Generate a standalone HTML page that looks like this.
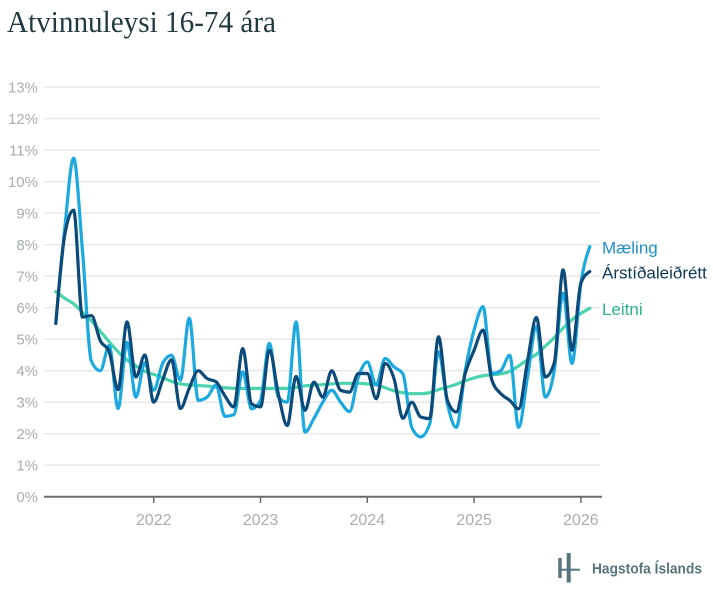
<!DOCTYPE html>
<html><head><meta charset="utf-8"><style>
html,body{margin:0;padding:0;background:#fff;}
svg{display:block;}
</style></head><body>
<svg width="713" height="597" viewBox="0 0 713 597" xmlns="http://www.w3.org/2000/svg">
<rect width="713" height="597" fill="#fff"/>
<text x="7" y="32" font-family="Liberation Serif, serif" font-size="31" fill="#213a40" textLength="269" lengthAdjust="spacingAndGlyphs">Atvinnuleysi 16-74 ára</text>
<g stroke="#e6e6e6" stroke-width="1.3">
<line x1="44" x2="600" y1="87.2" y2="87.2"/>
<line x1="44" x2="600" y1="118.7" y2="118.7"/>
<line x1="44" x2="600" y1="150.2" y2="150.2"/>
<line x1="44" x2="600" y1="181.7" y2="181.7"/>
<line x1="44" x2="600" y1="213.2" y2="213.2"/>
<line x1="44" x2="600" y1="244.7" y2="244.7"/>
<line x1="44" x2="600" y1="276.2" y2="276.2"/>
<line x1="44" x2="600" y1="307.7" y2="307.7"/>
<line x1="44" x2="600" y1="339.2" y2="339.2"/>
<line x1="44" x2="600" y1="370.7" y2="370.7"/>
<line x1="44" x2="600" y1="402.2" y2="402.2"/>
<line x1="44" x2="600" y1="433.7" y2="433.7"/>
<line x1="44" x2="600" y1="465.2" y2="465.2"/>
</g>
<g font-family="Liberation Sans, sans-serif" font-size="15" fill="#a7adb1" text-anchor="end">
<text x="38" y="92.7">13%</text>
<text x="38" y="124.2">12%</text>
<text x="38" y="155.7">11%</text>
<text x="38" y="187.2">10%</text>
<text x="38" y="218.7">9%</text>
<text x="38" y="250.2">8%</text>
<text x="38" y="281.7">7%</text>
<text x="38" y="313.2">6%</text>
<text x="38" y="344.7">5%</text>
<text x="38" y="376.2">4%</text>
<text x="38" y="407.7">3%</text>
<text x="38" y="439.2">2%</text>
<text x="38" y="470.7">1%</text>
<text x="38" y="502.2">0%</text>
</g>
<g stroke="#6b6b6b" stroke-width="1.5">
<line x1="153.7" x2="153.7" y1="497" y2="503"/>
<line x1="260.5" x2="260.5" y1="497" y2="503"/>
<line x1="367.3" x2="367.3" y1="497" y2="503"/>
<line x1="474.1" x2="474.1" y1="497" y2="503"/>
<line x1="580.9" x2="580.9" y1="497" y2="503"/>
</g>
<g font-family="Liberation Sans, sans-serif" font-size="16" fill="#a7adb1" text-anchor="middle">
<text x="153.7" y="525">2022</text>
<text x="260.5" y="525">2023</text>
<text x="367.3" y="525">2024</text>
<text x="474.1" y="525">2025</text>
<text x="580.9" y="525">2026</text>
</g>
<g transform="matrix(1,0,0,-31.5,0,496.7)">
<polyline class="s" fill="none" stroke="#4cd3ad" stroke-width="3.2" vector-effect="non-scaling-stroke" stroke-linejoin="round" stroke-linecap="round" points="55.8,6.51 64.7,6.3 73.6,6.12 82.5,5.85 91.4,5.58 100.3,5.25 109.2,4.92 118.1,4.6 127.0,4.34 135.9,4.15 144.8,3.98 153.7,3.88 162.6,3.78 171.5,3.66 180.4,3.58 189.3,3.55 198.2,3.53 207.1,3.51 216.0,3.48 224.9,3.46 233.8,3.44 242.7,3.44 251.6,3.44 260.5,3.44 269.4,3.44 278.3,3.44 287.2,3.44 296.1,3.47 305.0,3.52 313.9,3.54 322.8,3.56 331.7,3.58 340.6,3.6 349.5,3.6 358.4,3.6 367.3,3.58 376.2,3.55 385.1,3.46 394.0,3.36 402.9,3.3 411.8,3.27 420.7,3.27 429.6,3.3 438.5,3.4 447.4,3.48 456.3,3.57 465.2,3.68 474.1,3.77 483.0,3.84 491.9,3.87 500.8,3.9 509.7,3.98 518.6,4.15 527.5,4.35 536.4,4.52 545.3,4.78 554.2,5.05 563.1,5.35 572.0,5.62 580.9,5.82 589.8,5.98"/>
<polyline class="s" fill="none" stroke="#1ba9df" stroke-width="3.2" vector-effect="non-scaling-stroke" stroke-linejoin="round" stroke-linecap="round" points="55.8,5.5 64.7,8.5 73.6,10.75 82.5,7.8 91.4,4.3 100.3,4.0 109.2,4.8 118.1,2.8 127.0,4.9 135.9,3.16 144.8,4.25 153.7,3.38 162.6,4.23 171.5,4.49 180.4,3.7 189.3,5.67 198.2,3.06 207.1,3.16 216.0,3.54 224.9,2.55 233.8,2.6 242.7,3.96 251.6,2.79 260.5,3.06 269.4,4.87 278.3,3.16 287.2,3.0 296.1,5.55 305.0,2.05 313.9,2.48 322.8,3.0 331.7,3.38 340.6,3.0 349.5,2.7 358.4,3.8 367.3,4.28 376.2,3.55 385.1,4.39 394.0,4.12 402.9,3.9 411.8,2.2 420.7,1.9 429.6,2.3 438.5,4.6 447.4,2.95 456.3,2.2 465.2,4.0 474.1,5.29 483.0,6.03 491.9,3.91 500.8,4.0 509.7,4.49 518.6,2.2 527.5,3.8 536.4,5.4 545.3,3.16 554.2,4.0 563.1,6.46 572.0,4.23 580.9,6.78 589.8,7.94"/>
<polyline class="s" fill="none" stroke="#0b4a79" stroke-width="3.2" vector-effect="non-scaling-stroke" stroke-linejoin="round" stroke-linecap="round" points="55.8,5.5 64.7,8.3 73.6,9.1 82.5,5.7 91.4,5.75 100.3,4.95 109.2,4.6 118.1,3.4 127.0,5.55 135.9,3.8 144.8,4.5 153.7,3.0 162.6,3.7 171.5,4.35 180.4,2.8 189.3,3.45 198.2,4.0 207.1,3.75 216.0,3.65 224.9,3.2 233.8,2.85 242.7,4.7 251.6,2.95 260.5,2.85 269.4,4.65 278.3,3.27 287.2,2.26 296.1,3.82 305.0,2.74 313.9,3.64 322.8,3.16 331.7,4.0 340.6,3.38 349.5,3.32 358.4,3.91 367.3,3.91 376.2,3.11 385.1,4.23 394.0,3.75 402.9,2.49 411.8,3.0 420.7,2.53 429.6,2.48 438.5,5.08 447.4,3.06 456.3,2.69 465.2,3.91 474.1,4.65 483.0,5.29 491.9,3.7 500.8,3.27 509.7,3.06 518.6,2.79 527.5,4.3 536.4,5.69 545.3,3.8 554.2,4.24 563.1,7.2 572.0,4.65 580.9,6.78 589.8,7.15"/>
</g>
<line x1="44" x2="602" y1="496.7" y2="496.7" stroke="#6b6b6b" stroke-width="2"/>
<g font-family="Liberation Sans, sans-serif" font-size="17">
<text x="602" y="253.3" fill="#1b8ec4">Mæling</text>
<text x="602" y="278.4" fill="#0d3a57">Árstíðaleiðrétt</text>
<text x="602" y="315" fill="#2bb38f">Leitni</text>
</g>
<g fill="#56747b">
<rect x="558.3" y="558" width="3.4" height="20"/>
<rect x="566.7" y="553" width="4" height="29.5"/>
<rect x="558" y="568.7" width="22" height="2"/>
</g>
<text x="592" y="573.5" font-family="Liberation Sans, sans-serif" font-size="14.5" font-weight="bold" fill="#56747b" textLength="110" lengthAdjust="spacingAndGlyphs">Hagstofa Íslands</text>
</svg>
<script>
document.querySelectorAll('polyline.s').forEach(function(pl){
  var nums = pl.getAttribute('points').trim().split(/[\s,]+/).map(Number);
  var P=[]; for(var i=0;i<nums.length;i+=2)P.push([nums[i],nums[i+1]]);
  var n=P.length, m=new Array(n), d=[], h=[];
  for(var i=0;i<n-1;i++){h[i]=P[i+1][0]-P[i][0]; d[i]=(P[i+1][1]-P[i][1])/h[i];}
  for(var i=1;i<n-1;i++){var s0=d[i-1],s1=d[i],h0=h[i-1],h1=h[i];var p=(s0*h1+s1*h0)/(h0+h1);
    m[i]=(Math.sign(s0)+Math.sign(s1))*Math.min(Math.abs(s0),Math.abs(s1),0.5*Math.abs(p))||0;}
  m[0]=(3*d[0]-m[1])/2; m[n-1]=(3*d[n-2]-m[n-2])/2;
  var s='M'+P[0][0]+','+P[0][1];
  for(var i=0;i<n-1;i++){var dx=h[i]/3;
    s+='C'+(P[i][0]+dx)+','+(P[i][1]+m[i]*dx)+' '+(P[i+1][0]-dx)+','+(P[i+1][1]-m[i+1]*dx)+' '+P[i+1][0]+','+P[i+1][1];}
  var path=document.createElementNS('http://www.w3.org/2000/svg','path');
  ['stroke','stroke-width','fill','vector-effect','stroke-linejoin','stroke-linecap'].forEach(function(a){if(pl.hasAttribute(a))path.setAttribute(a,pl.getAttribute(a));});
  path.setAttribute('d',s);
  pl.parentNode.replaceChild(path,pl);
});
</script>
</body></html>
